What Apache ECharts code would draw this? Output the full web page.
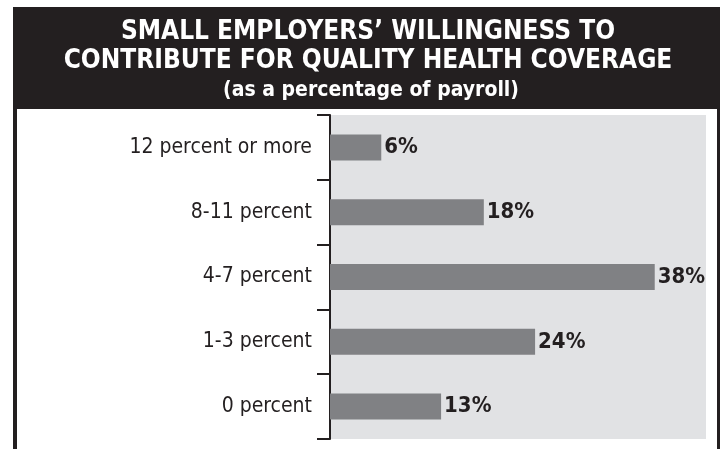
<!DOCTYPE html>
<html>
<head>
<meta charset="utf-8">
<script src="https://cdn.jsdelivr.net/npm/echarts@6/dist/echarts.min.js"></script>
<style>
  html, body { margin: 0; padding: 0; background: #fff; }
  #chart { width: 721px; height: 449px; }
</style>
</head>
<body>
<div id="chart"></div>
<script>
(function () {
    var categories = ['12 percent or more', '8-11 percent', '4-7 percent', '1-3 percent', '0 percent'];
    var shares = [6, 18, 38, 24, 13];

    var font = '"DejaVu Sans Condensed", "Liberation Sans Narrow", sans-serif';
    var ink = '#231f20';

    var myChart = echarts.init(document.getElementById('chart'));
    var option = {
        backgroundColor: '#ffffff',
        animation: false,
        graphic: [
            // header band
            { type: 'rect', left: 13, top: 7, shape: { width: 704, height: 102 }, style: { fill: ink }, z: 0 },
            // side frame lines
            { type: 'rect', left: 13, top: 7, shape: { width: 4, height: 442 }, style: { fill: ink }, z: 0 },
            { type: 'rect', left: 717, top: 7, shape: { width: 3, height: 442 }, style: { fill: ink }, z: 0 }
        ],
        title: [
            {
                text: 'SMALL EMPLOYERS’ WILLINGNESS TO\nCONTRIBUTE FOR QUALITY HEALTH COVERAGE',
                left: 363,
                textAlign: 'center',
                top: 13,
                textStyle: { color: '#fff', fontFamily: font, fontWeight: 'bold', fontSize: 26, lineHeight: 29 }
            },
            {
                text: '(as a percentage of payroll)',
                left: 366,
                textAlign: 'center',
                top: 75,
                textStyle: { color: '#fff', fontFamily: font, fontWeight: 'bold', fontSize: 21 }
            }
        ],
        grid: {
            left: 330,
            right: 15,
            top: 115,
            bottom: 10,
            show: true,
            backgroundColor: '#e1e2e4',
            borderWidth: 0
        },
        xAxis: {
            type: 'value',
            min: 0,
            max: 44,
            show: false
        },
        yAxis: {
            type: 'category',
            data: categories,
            inverse: true,
            axisLine: { show: true, lineStyle: { color: ink, width: 2 } },
            axisTick: { show: true, length: 13, interval: 0, lineStyle: { color: ink, width: 2 } },
            axisLabel: { color: ink, fontFamily: font, fontSize: 21, margin: 18 },
            splitLine: { show: false }
        },
        series: [
            {
                type: 'bar',
                data: shares,
                barWidth: 26,
                itemStyle: { color: '#808184' },
                label: {
                    show: true,
                    position: 'right',
                    distance: 3,
                    formatter: '{c}%',
                    color: ink,
                    fontFamily: font,
                    fontWeight: 'bold',
                    fontSize: 22
                }
            }
        ]
    };

    myChart.setOption(option);
    window.addEventListener('resize', function () {
        myChart.resize();
    });
})();
</script>
</body>
</html>
